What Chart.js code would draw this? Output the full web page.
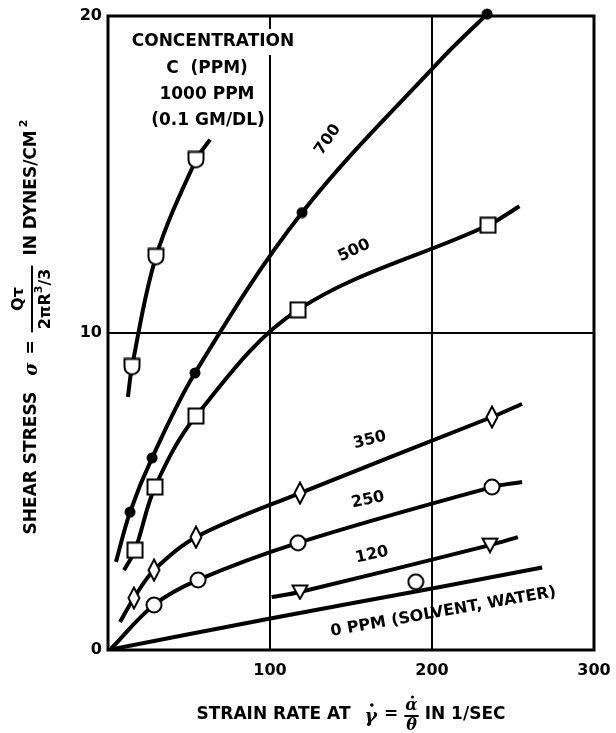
<!DOCTYPE html>
<html><head><meta charset="utf-8">
<script src="https://cdn.jsdelivr.net/npm/chart.js@4"></script>
<style>html,body{margin:0;padding:0;background:#fff}canvas{display:block}</style>
</head><body>
<canvas id="c" width="616" height="733"></canvas>
<script>
// ---------- data ----------
const xTickValues = [0, 100, 200, 300];
const yTickValues = [0, 10, 20];

const curve1000 = [[12.3,7.98],[14.8,8.93],[29.6,12.4],[54.3,15.46],[63,16.1]];
const marks1000 = [[14.8,8.93],[29.6,12.4],[54.3,15.46]];

const curve700 = [[4.9,2.78],[13.6,4.35],[27.2,6.06],[53.7,8.74],[119.8,13.8],[205,18.6],[234,20.06]];
const marks700 = [[13.6,4.35],[27.2,6.06],[53.7,8.74],[119.8,13.8],[234,20.06]];

const curve500 = [[9.9,2.52],[16.7,3.15],[29,5.14],[54.3,7.38],[117.3,10.73],[234.6,13.4],[254,14.0]];
const marks500 = [[16.7,3.15],[29,5.14],[54.3,7.38],[117.3,10.73],[234.6,13.4]];

const curve350 = [[7.4,0.88],[16,1.64],[28.4,2.52],[54.3,3.56],[118.5,4.95],[237,7.35],[255.6,7.76]];
const marks350 = [[16,1.64],[28.4,2.52],[54.3,3.56],[118.5,4.95],[237,7.35]];

const curve250 = [[2,0.05],[28.4,1.42],[55.6,2.21],[117.3,3.38],[237,5.14],[255.6,5.3]];
const marks250 = [[28.4,1.42],[55.6,2.21],[117.3,3.38],[237,5.14]];

const curve120 = [[101,1.67],[118.5,1.83],[235.8,3.31],[253,3.56]];
const marks120 = [[118.5,1.83],[235.8,3.31]];

const curve0 = [[0,0],[101,1.0],[205,1.99],[268,2.6]];
const marksStray = [[190,2.15]];

const legendLines = ['CONCENTRATION', 'C  (PPM)', '1000 PPM', '(0.1 GM/DL)'];
const curveLabels = [
  {text:'700', x:135.8, y:16.1, rot:-55},
  {text:'500', x:151.9, y:12.6, rot:-25},
  {text:'350', x:161.7, y:6.62, rot:-14},
  {text:'250', x:160.5, y:4.73, rot:-12},
  {text:'120', x:163, y:3.0, rot:-12},
  {text:'0 PPM (SOLVENT, WATER)', x:207, y:1.2, rot:-10}
];

// ---------- markers ----------
function mk(w, h, draw){
  const c = document.createElement('canvas');
  c.width = w; c.height = h;
  const g = c.getContext('2d');
  g.lineWidth = 2; g.strokeStyle = '#000'; g.fillStyle = '#fff';
  draw(g, w, h);
  return c;
}
const mSquare = mk(18,18,(g,w,h)=>{g.beginPath();g.rect(1.5,1.5,w-3,h-3);g.fill();g.stroke();});
const mHouse = mk(18,19,(g,w,h)=>{g.beginPath();g.moveTo(1.5,1.5);g.lineTo(w-1.5,1.5);g.lineTo(w-1.5,9.5);g.arc(w/2,9.5,w/2-1.5,0,Math.PI);g.closePath();g.fill();g.stroke();});
const mDot = mk(12,12,(g,w,h)=>{g.fillStyle='#000';g.beginPath();g.arc(6,6,5.5,0,Math.PI*2);g.fill();});
const mCircle = mk(18,18,(g,w,h)=>{g.beginPath();g.arc(9,9,7.5,0,Math.PI*2);g.fill();g.stroke();});
const mDiamond = mk(14,24,(g,w,h)=>{g.beginPath();g.moveTo(w/2,1.5);g.lineTo(w-1.5,h/2);g.lineTo(w/2,h-1.5);g.lineTo(1.5,h/2);g.closePath();g.fill();g.stroke();});
const mTri = mk(18,17,(g,w,h)=>{g.beginPath();g.moveTo(1.5,2);g.lineTo(w-1.5,2);g.lineTo(w/2,h-1.5);g.closePath();g.fill();g.stroke();});

const pts = a => a.map(p => ({x:p[0], y:p[1]}));
function lineDs(a){
  return {data:pts(a), showLine:true, borderColor:'#000', borderWidth:4, pointRadius:0,
    tension:0.35, fill:false, order:2, borderCapStyle:'butt', borderJoinStyle:'round'};
}
function markDs(a, style){
  return {data:pts(a), showLine:false, pointStyle:style, pointRadius:8, order:1,
    borderColor:'#000', backgroundColor:'#fff', clip:12};
}

const FONT = '"DejaVu Sans", "Liberation Sans", Arial, sans-serif';

const decor = {
  id:'decor',
  beforeDatasetsDraw(chart){
    const ctx = chart.ctx, a = chart.chartArea;
    ctx.save();
    ctx.strokeStyle = '#000'; ctx.lineWidth = 3;
    ctx.strokeRect(a.left, a.top, a.right - a.left, a.bottom - a.top);
    ctx.restore();
  },
  afterDraw(chart){
    const ctx = chart.ctx, a = chart.chartArea;
    const xs = chart.scales.x, ys = chart.scales.y;
    ctx.save();
    ctx.font = 'bold 17px ' + FONT;
    ctx.textAlign = 'center'; ctx.textBaseline = 'middle';
    const lx = [213, 207, 207, 208], ly = [42, 69, 95, 121];
    legendLines.forEach((t, i) => {
      const w = ctx.measureText(t).width;
      if (i === 0) { ctx.fillStyle = '#fff'; ctx.fillRect(lx[i] - w/2 - 2, ly[i] - 13, w + 4, 26); }
      ctx.fillStyle = '#000';
      ctx.fillText(t, lx[i], ly[i]);
    });

    ctx.font = 'bold 16px ' + FONT;
    curveLabels.forEach(l => {
      ctx.save();
      ctx.translate(xs.getPixelForValue(l.x), ys.getPixelForValue(l.y));
      ctx.rotate(l.rot * Math.PI / 180);
      ctx.fillText(l.text, 0, 0);
      ctx.restore();
    });

    drawXTitle(ctx, (a.left + a.right) / 2, 715);
    drawYTitle(ctx, 32, (a.top + a.bottom) / 2 - 6);
    ctx.restore();
  }
};

function drawXTitle(ctx, cx, cy){
  const F = 'bold 17px ' + FONT;
  const FI = 'bold italic 19px "DejaVu Serif", serif';
  const FF = 'bold italic 16px "DejaVu Serif", serif';
  ctx.save();
  ctx.textBaseline = 'middle'; ctx.textAlign = 'left'; ctx.fillStyle = '#000';
  ctx.font = F; const w1 = ctx.measureText('STRAIN RATE AT').width;
  ctx.font = FI; const wg = ctx.measureText('γ').width;
  ctx.font = F; const we = ctx.measureText('=').width;
  ctx.font = FF; const wf = Math.max(ctx.measureText('α').width, ctx.measureText('θ').width) + 2;
  ctx.font = F; const w2 = ctx.measureText('IN 1/SEC').width;
  const g1 = 14, g2 = 7, g3 = 6, g4 = 6;
  const total = w1 + g1 + wg + g2 + we + g3 + wf + g4 + w2;
  let x = cx - total / 2;
  ctx.font = F; ctx.fillText('STRAIN RATE AT', x, cy); x += w1 + g1;
  ctx.font = FI; ctx.fillText('γ', x, cy + 2);
  ctx.beginPath(); ctx.arc(x + wg/2 + 1, cy - 10, 1.8, 0, Math.PI*2); ctx.fill();
  x += wg + g2;
  ctx.font = F; ctx.fillText('=', x, cy); x += we + g3;
  ctx.font = FF; ctx.textAlign = 'center';
  ctx.fillText('α', x + wf/2, cy - 9);
  ctx.beginPath(); ctx.arc(x + wf/2 + 1, cy - 18, 1.6, 0, Math.PI*2); ctx.fill();
  ctx.fillText('θ', x + wf/2, cy + 11);
  ctx.fillRect(x, cy, wf, 2);
  ctx.textAlign = 'left';
  x += wf + g4;
  ctx.font = F; ctx.fillText('IN 1/SEC', x, cy);
  ctx.restore();
}

function drawYTitle(ctx, cx, cy){
  const F = 'bold 17px ' + FONT;
  const FS = 'bold italic 18px "DejaVu Serif", serif';
  const FN = 'bold 16px ' + FONT;
  const FSUP = 'bold 11px ' + FONT;
  ctx.save();
  ctx.translate(cx, cy);
  ctx.rotate(-Math.PI / 2);
  ctx.textBaseline = 'middle'; ctx.textAlign = 'left'; ctx.fillStyle = '#000';
  ctx.font = F; const w1 = ctx.measureText('SHEAR STRESS').width;
  ctx.font = FS; const ws = ctx.measureText('σ').width;
  ctx.font = F; const we = ctx.measureText('=').width;
  ctx.font = FN; const wn = ctx.measureText('Qτ').width;
  const wd1 = ctx.measureText('2πR').width, wd3 = ctx.measureText('/3').width;
  ctx.font = FSUP; const wsup = ctx.measureText('3').width;
  const wd = wd1 + wsup + wd3;
  const wb = Math.max(wn, wd) + 6;
  ctx.font = F; const w2 = ctx.measureText('IN DYNES/CM').width;
  ctx.font = FSUP; const w2s = ctx.measureText('2').width;
  const g1 = 16, g2 = 8, g3 = 8, g4 = 10;
  const total = w1 + g1 + ws + g2 + we + g3 + wb + g4 + w2 + 3 + w2s;
  let x = -total / 2;
  ctx.font = F; ctx.fillText('SHEAR STRESS', x, 0); x += w1 + g1;
  ctx.font = FS; ctx.fillText('σ', x, 0); x += ws + g2;
  ctx.font = F; ctx.fillText('=', x, 0); x += we + g3;
  ctx.fillRect(x, -1, wb, 2);
  ctx.font = FN;
  ctx.fillText('Qτ', x + (wb - wn) / 2, -13);
  let dx = x + (wb - wd) / 2;
  ctx.fillText('2πR', dx, 14); dx += wd1;
  ctx.font = FSUP; ctx.fillText('3', dx, 7); dx += wsup;
  ctx.font = FN; ctx.fillText('/3', dx, 14);
  x += wb + g4;
  ctx.font = F; ctx.fillText('IN DYNES/CM', x, 0); x += w2 + 3;
  ctx.font = FSUP; ctx.fillText('2', x, -8);
  ctx.restore();
}

new Chart(document.getElementById('c'), {
  type: 'scatter',
  data: { datasets: [
    lineDs(curve1000), markDs(marks1000, mHouse),
    lineDs(curve700), markDs(marks700, mDot),
    lineDs(curve500), markDs(marks500, mSquare),
    lineDs(curve350), markDs(marks350, mDiamond),
    lineDs(curve250), markDs(marks250, mCircle),
    lineDs(curve120), markDs(marks120, mTri),
    lineDs(curve0), markDs(marksStray, mCircle)
  ]},
  options: {
    responsive: false, animation: false, devicePixelRatio: 1,
    layout: { padding: { top: 16, right: 22, left: 0, bottom: 0 } },
    plugins: { legend: { display: false }, tooltip: { enabled: false } },
    scales: {
      x: {
        type: 'linear', min: 0, max: 300,
        afterBuildTicks: s => { s.ticks = xTickValues.map(v => ({value: v})); },
        afterFit: s => { s.height = 83; s.paddingLeft = 0; s.paddingRight = 0; },
        grid: { color: '#000', lineWidth: 2, drawTicks: false },
        border: { display: false },
        ticks: { color: '#000', padding: 11, font: { family: FONT, size: 16, weight: 'bold' },
          maxRotation: 0, callback: v => v === 0 ? '' : String(v) }
      },
      y: {
        type: 'linear', min: 0, max: 20,
        afterBuildTicks: s => { s.ticks = yTickValues.map(v => ({value: v})); },
        afterFit: s => { s.width = 108; s.paddingTop = 0; s.paddingBottom = 0; },
        grid: { color: '#000', lineWidth: 2, drawTicks: false },
        border: { display: false },
        ticks: { color: '#000', padding: 6, font: { family: FONT, size: 16, weight: 'bold' } }
      }
    }
  },
  plugins: [decor]
});
</script>
</body></html>
